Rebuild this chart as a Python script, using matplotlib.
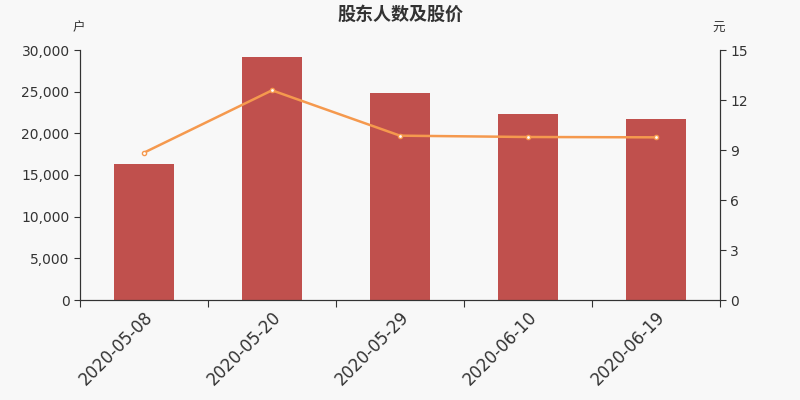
import numpy as np
import matplotlib.pyplot as plt
from matplotlib.ticker import FuncFormatter

plt.rcParams['font.family'] = ['DejaVu Sans', 'Noto Sans CJK SC']

dates = ['2020-05-08', '2020-05-20', '2020-05-29', '2020-06-10', '2020-06-19']
holders = [16300, 29150, 24800, 22320, 21680]
price = [8.84, 12.58, 9.86, 9.78, 9.76]

bg = '#f8f8f8'
fig = plt.figure(figsize=(8, 4), dpi=100, facecolor=bg)
ax = fig.add_axes([0.1, 0.25, 0.8, 0.625], facecolor=bg)
x = np.arange(len(dates))
ax.bar(x, holders, width=0.47, color='#c0504d', zorder=2)
ax.set_xlim(-0.5, len(dates) - 0.5)
ax.set_ylim(0, 30000)
ax.set_yticks(np.arange(0, 30001, 5000))
ax.yaxis.set_major_formatter(FuncFormatter(lambda v, p: f'{int(v):,}'))

ax.set_xticks(np.arange(-0.5, len(dates), 1.0))
ax.set_xticklabels([])
ax.set_xticks(x, minor=True)
ax.set_xticklabels(dates, minor=True, rotation=45, ha='right',
                   rotation_mode='anchor', fontsize=12, color='#333333')
ax.tick_params(axis='x', which='minor', length=0, pad=6)
ax.tick_params(axis='x', which='major', length=5, color='#333333')
ax.tick_params(axis='y', labelsize=10, colors='#333333', length=4)

ax2 = ax.twinx()
ax2.plot(x, price, color='#f5994e', lw=1.8, marker='o', ms=3,
         mfc='white', mec='#f5994e', mew=1, zorder=3)
ax2.set_ylim(0, 15)
ax2.set_yticks(np.arange(0, 16, 3))
ax2.tick_params(axis='y', labelsize=10, colors='#333333', length=4)

for a in (ax, ax2):
    a.spines['top'].set_visible(False)
    for s in ('left', 'right', 'bottom'):
        a.spines[s].set_color('#333333')

fig.text(0.5, 0.965, '股东人数及股价', ha='center', va='center',
         fontsize=13, fontweight='bold', color='#333333',
         family=['Noto Sans CJK SC', 'DejaVu Sans'])
fig.text(0.098, 0.93, '户', ha='center', va='center', fontsize=9, color='#333333',
         family=['Noto Sans CJK SC', 'DejaVu Sans'])
fig.text(0.898, 0.93, '元', ha='center', va='center', fontsize=9, color='#333333',
         family=['Noto Sans CJK SC', 'DejaVu Sans'])

fig.savefig('out.png', dpi=100, facecolor=bg)
